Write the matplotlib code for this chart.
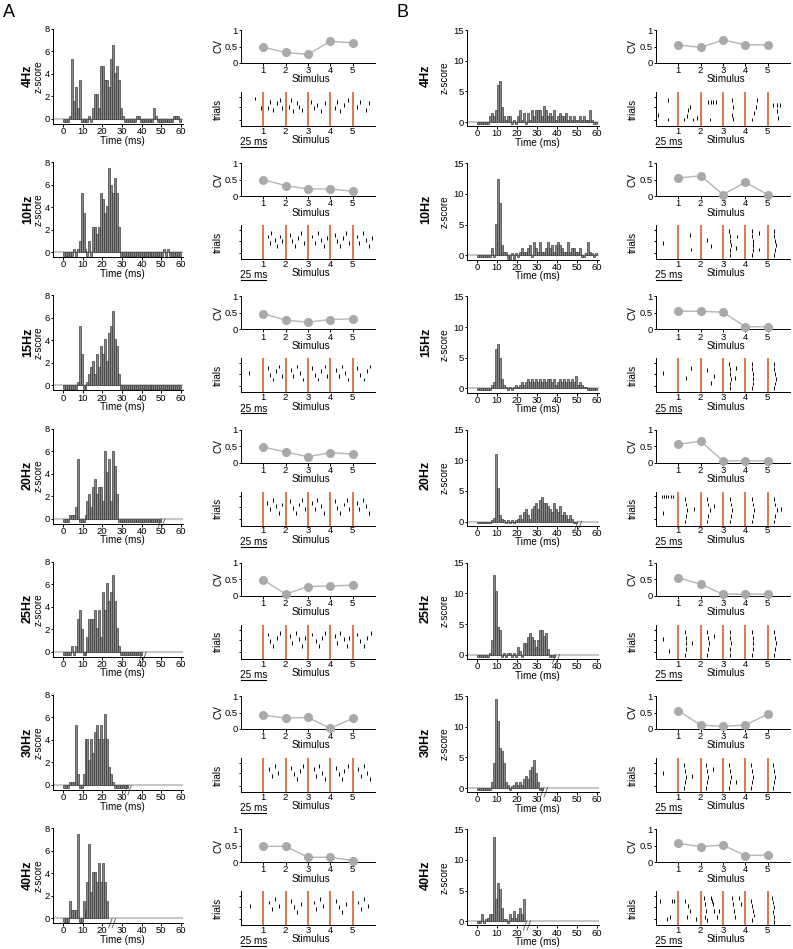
import numpy as np
import matplotlib.pyplot as plt
from matplotlib.transforms import blended_transform_factory

plt.rcParams['font.family'] = ['Liberation Sans', 'DejaVu Sans']
plt.rcParams['font.size'] = 7.2
plt.rcParams['axes.linewidth'] = 0.7

W, H = 793, 949
ROW = 133.2  # px between rows

freqs = ['4Hz', '10Hz', '15Hz', '20Hz', '25Hz', '30Hz', '40Hz']
stims = [1, 2, 3, 4, 5]

# ms where the next stimulus cuts the PSTH
cut_a = [None, None, None, 50, 40.5, 33, 25]
cut_b = [None, None, None, 50.5, 39.5, 33.5, 25]

# PSTH z-scores, 1 ms bins starting at 0 ms
a4 = [-0.3, -0.3, -0.3, 0.3, 5.3, 1.6, 2.8, 1.0, 3.5, -0.3,
      -0.3, -0.3, -0.3, 0.3, -0.3, 1.0, 2.2, 2.2, 1.0, 4.7,
      4.7, 3.5, 3.5, 2.8, 5.3, 6.6, 4.1, 4.7, 3.5, 1.0,
      0.3, -0.3, -0.3, -0.3, -0.3, -0.3, -0.3, 0.3, 0.3, -0.3,
      -0.3, -0.3, -0.3, -0.3, -0.3, -0.3, 1.0, 0.3, -0.3, -0.3,
      -0.3, -0.3, -0.3, -0.3, -0.3, -0.3, 0.3, 0.3, 0.3, -0.3]
a10 = [-0.3, -0.3, -0.3, -0.3, -0.3, 0.3, -0.3, 0.3, 1.0, 5.3,
       3.5, 0.3, -0.3, 1.0, -0.3, 2.2, 2.2, 1.6, 2.2, 5.3,
       4.7, 3.5, 4.1, 7.5, 6.0, 5.3, 6.6, 5.3, 2.2, -0.3,
       -0.3, -0.3, -0.3, -0.3, -0.3, -0.3, -0.3, -0.3, -0.3, -0.3,
       -0.3, -0.3, -0.3, -0.3, -0.3, -0.3, -0.3, -0.3, -0.3, -0.3,
       -0.3, 0.3, -0.3, 0.3, -0.3, -0.3, -0.3, -0.3, -0.3, -0.3]
a15 = [-0.3, -0.3, -0.3, -0.3, -0.3, -0.3, -0.3, 0.3, 5.3, 2.8,
       -0.3, -0.3, 0.3, 1.0, 1.6, 2.2, 1.0, 2.8, 1.6, 3.5,
       2.8, 4.1, 2.2, 4.7, 5.3, 6.6, 4.1, 3.5, 1.0, -0.3,
       -0.3, -0.3, -0.3, -0.3, -0.3, -0.3, -0.3, -0.3, -0.3, -0.3,
       -0.3, -0.3, -0.3, -0.3, -0.3, -0.3, -0.3, -0.3, -0.3, -0.3,
       -0.3, -0.3, -0.3, -0.3, -0.3, -0.3, -0.3, -0.3, -0.3, -0.3]
a20 = [-0.3, -0.3, -0.3, 0.3, 0.3, 0.3, 1.0, 5.3, -0.3, -0.3,
       -0.3, 0.3, 1.6, 2.2, 1.0, 2.8, 3.5, 2.2, 2.8, 2.8,
       1.6, 6.0, 4.1, 5.3, 1.6, 6.0, 4.7, 2.2, -0.3, -0.3,
       -0.3, -0.3, -0.3, -0.3, -0.3, -0.3, -0.3, -0.3, -0.3, -0.3,
       -0.3, -0.3, -0.3, -0.3, -0.3, -0.3, -0.3, -0.3, -0.3, -0.3]
a25 = [-0.3, -0.3, -0.3, -0.3, 0.5, -0.3, 0.5, 2.9, 3.7, 2.0,
       -0.3, -0.3, 1.3, 2.9, 2.9, 2.9, 3.7, 2.1, 3.7, 1.3,
       5.3, 3.7, 6.1, 4.5, 5.3, 6.8, 4.5, 2.1, 0.5, -0.3,
       -0.3, -0.3, -0.3, -0.3, -0.3, -0.3, -0.3, -0.3, -0.3, -0.3]
a30 = [-0.3, -0.3, -0.3, 0.3, 0.3, 0.3, 5.3, 1.0, -0.3, -0.3,
       1.0, 4.1, 4.1, 2.2, 4.1, 2.8, 4.7, 5.3, 4.1, 5.3,
       4.1, 6.3, 4.1, 1.6, 1.0, 0.3, -0.3, -0.3, -0.3, -0.3,
       -0.3, -0.3, -0.3]
a40 = [-0.3, -0.3, -0.3, 1.5, 0.7, 0.7, 0.7, 7.5, -0.3, -0.3,
       1.5, 0.7, 3.2, 6.6, 2.3, 4.1, 4.1, 3.2, 4.9, 3.2,
       4.9, 3.2, 1.5]

b4 = [-0.3, -0.3, -0.3, -0.3, -0.3, -0.3, 0.9, 1.5, 0.9, 2.0,
      6.1, 6.7, 2.5, 0.9, 0.4, 0.9, 0.9, -0.3, 0.4, -0.3,
      0.9, 2.0, 0.4, 1.5, -0.3, 1.5, 0.4, 2.0, 0.9, 2.0,
      2.0, 2.0, 0.9, 2.6, 2.0, 0.9, 1.5, 0.9, 2.0, 0.4,
      0.9, 1.5, 0.9, 0.9, 1.5, 0.4, 0.9, 0.4, 0.9, 0.4,
      0.4, 0.9, 0.4, 0.9, 0.4, 0.4, 2.0, 0.4, -0.3, -0.3]
b10 = [-0.3, -0.3, -0.3, -0.3, -0.3, -0.3, -0.3, 1.1, -0.3, 5.1,
       12.4, 8.5, 1.7, 0.6, 0.6, -0.6, -0.6, 0.3, -0.6, 0.3,
       -0.3, 0.6, 1.1, 0.6, 0.6, 1.1, 1.6, -0.3, 2.2, 1.1,
       0.6, 2.2, 0.6, 0.6, 1.1, 2.2, 1.1, 1.7, 0.6, 1.7,
       2.2, 1.7, 1.1, 0.6, 0.6, 2.2, 0.6, 1.1, 1.1, 0.6,
       0.6, 1.1, -0.3, -0.3, 0.3, 2.2, 0.6, 0.3, -0.3, 0.3]
b15 = [-0.3, -0.3, -0.3, -0.3, -0.3, -0.3, -0.3, 0.5, 1.0, 6.5,
       7.2, 5.0, 1.5, 0.5, 0.3, -0.3, 0.3, -0.3, 0.3, 0.5,
       0.3, 0.5, 1.0, 0.5, 1.0, 1.5, 1.0, 1.5, 1.0, 1.5,
       1.0, 1.5, 1.0, 1.5, 1.0, 1.5, 1.5, 1.0, 1.5, 0.5,
       1.0, 1.5, 1.0, 1.5, 1.0, 1.5, 1.0, 1.5, 1.0, 2.0,
       0.5, 1.0, 0.5, 0.3, 0.3, -0.3, -0.3, -0.3, -0.3, -0.3]
b20 = [-0.3, -0.3, -0.3, -0.3, -0.3, -0.3, -0.3, 0.3, 0.6, 11.0,
       5.5, 1.0, 0.5, 0.3, -0.3, 0.3, -0.3, 0.3, -0.3, 0.3,
       0.5, 1.0, 0.5, 1.5, 2.0, 1.0, 0.5, 2.0, 2.5, 3.0,
       2.0, 3.5, 4.0, 3.0, 3.0, 2.5, 2.0, 1.5, 3.0, 2.0,
       1.5, 2.5, 1.0, 1.5, 1.0, 0.5, 1.0, 0.5, -0.3, -0.3]
b25 = [-0.3, -0.3, -0.3, -0.3, -0.3, -0.3, 0.3, 2.4, 13.0, 10.4,
       4.6, 4.0, -0.3, 0.3, -0.3, 0.3, 0.3, -0.3, 0.3, -0.3,
       1.3, 0.6, -0.3, 1.9, 1.9, 2.9, 3.6, 2.9, 2.4, 1.3,
       2.4, 4.0, 4.0, 3.0, 3.6, 1.0, -0.3, -0.3, -0.3]
b30 = [-0.3, -0.3, -0.3, -0.3, -0.3, -0.3, -0.3, 1.0, 4.0, 14.5,
       11.0, 6.5, 6.0, 4.0, 1.0, 0.5, -0.3, 0.3, 0.5, 1.0,
       0.5, 1.0, 0.5, 1.5, 2.0, 1.5, 3.0, 3.5, 4.5, 2.5,
       1.0, -0.3, -0.3]
b40 = [-0.3, -0.3, 1.1, -0.3, 0.3, 0.6, 1.1, 1.1, 13.8, 3.6,
       6.2, 5.2, 2.1, 0.3, 0.3, -0.3, 1.1, 0.6, 1.6, 0.6,
       1.1, 2.1, 1.1, 3.6]

hist_a = [a4, a10, a15, a20, a25, a30, a40]
hist_b = [b4, b10, b15, b20, b25, b30, b40]

# coefficient of variation per stimulus
cv_a = [[0.48, 0.32, 0.26, 0.66, 0.61],
        [0.50, 0.32, 0.22, 0.22, 0.15],
        [0.48, 0.28, 0.22, 0.30, 0.32],
        [0.47, 0.32, 0.18, 0.30, 0.26],
        [0.48, 0.05, 0.28, 0.30, 0.32],
        [0.42, 0.33, 0.35, 0.02, 0.32],
        [0.48, 0.48, 0.15, 0.15, 0.05]]
cv_b = [[0.55, 0.47, 0.70, 0.55, 0.55],
        [0.55, 0.62, 0.05, 0.42, 0.05],
        [0.55, 0.55, 0.52, 0.08, 0.08],
        [0.55, 0.65, 0.05, 0.05, 0.05],
        [0.55, 0.35, 0.05, 0.05, 0.05],
        [0.55, 0.12, 0.08, 0.12, 0.45],
        [0.57, 0.47, 0.52, 0.20, 0.22]]

# raster spikes: position in stimulus units, trial number
ras_a_x = [
    [0.63, 0.9, 1.2, 1.3, 1.45, 1.6, 1.75, 1.85, 2.15, 2.25, 2.35, 2.5, 2.6, 2.75,
     3.15, 3.25, 3.4, 3.6, 3.75, 4.2, 4.3, 4.45, 4.6, 4.8, 5.2, 5.35, 5.6, 5.75],
    [1.2, 1.28, 1.35, 1.5, 1.62, 1.75, 1.85, 2.2, 2.3, 2.4, 2.55, 2.7, 2.8,
     3.2, 3.3, 3.45, 3.6, 3.7, 3.85, 4.2, 4.3, 4.45, 4.55, 4.7, 4.85,
     5.2, 5.3, 5.45, 5.6, 5.75, 5.85],
    [0.35, 1.2, 1.3, 1.42, 1.55, 1.7, 1.82, 2.22, 2.35, 2.5, 2.62, 2.78,
     3.2, 3.32, 3.45, 3.6, 3.75, 3.85, 4.25, 4.38, 4.5, 4.65, 4.8,
     5.2, 5.35, 5.5, 5.62, 5.78],
    [1.18, 1.3, 1.45, 1.58, 1.72, 1.85, 2.2, 2.32, 2.45, 2.6, 2.75, 2.85,
     3.18, 3.3, 3.42, 3.58, 3.72, 4.2, 4.32, 4.45, 4.6, 4.75, 4.85,
     5.18, 5.3, 5.45, 5.6, 5.75],
    [1.2, 1.32, 1.45, 1.6, 1.75, 2.2, 2.3, 2.45, 2.6, 2.72, 2.85,
     3.2, 3.35, 3.5, 3.62, 3.78, 4.2, 4.3, 4.45, 4.6, 4.75, 4.85,
     5.2, 5.35, 5.5, 5.65, 5.8],
    [1.25, 1.38, 1.5, 1.65, 2.25, 2.38, 2.5, 2.65, 2.78, 3.25, 3.38, 3.5,
     3.62, 3.75, 4.25, 4.38, 4.5, 4.62, 4.78, 5.25, 5.38, 5.5, 5.62, 5.78],
    [0.4, 1.25, 1.38, 1.52, 1.68, 2.25, 2.38, 2.52, 2.68, 3.25, 3.38, 3.52,
     3.68, 4.25, 4.38, 4.52, 4.68, 5.25, 5.38, 5.52, 5.68]]
ras_a_y = [
    [17, 11, 11, 15, 10, 14, 16, 11, 12, 16, 9, 14, 12, 10,
     15, 11, 13, 9, 14, 11, 15, 9, 13, 16, 12, 15, 10, 14],
    [14, 10, 16, 12, 8, 14, 11, 15, 11, 8, 13, 16, 10,
     14, 10, 16, 12, 8, 13, 15, 11, 8, 13, 16, 10,
     14, 10, 16, 12, 8, 13],
    [12, 15, 11, 8, 13, 16, 10, 14, 10, 16, 12, 8,
     15, 11, 8, 13, 16, 10, 14, 10, 16, 12, 8,
     15, 11, 8, 13, 16],
    [14, 10, 16, 12, 8, 13, 15, 11, 8, 13, 16, 10,
     14, 10, 16, 12, 8, 15, 11, 8, 13, 16, 10,
     14, 10, 16, 12, 8],
    [15, 11, 8, 13, 16, 14, 10, 16, 12, 8, 13,
     15, 11, 8, 13, 16, 14, 10, 16, 12, 8, 13,
     15, 11, 8, 13, 16],
    [14, 10, 16, 12, 15, 11, 8, 13, 16, 14, 10, 16,
     12, 8, 15, 11, 8, 13, 16, 14, 10, 16, 12, 8],
    [12, 14, 10, 16, 12, 15, 11, 8, 13, 14, 10, 16,
     12, 15, 11, 8, 13, 14, 10, 16, 12]]
ras_b_x = [
    [0.1, 0.55, 0.55, 1.27, 1.37, 1.45, 1.52, 1.67, 1.82,
     2.34, 2.45, 2.57, 2.7, 2.42, 3.39, 3.46, 3.39, 3.43,
     4.31, 4.39, 4.46, 4.5, 5.25, 5.4, 5.55, 5.4, 5.48],
    [0.3, 1.5, 1.55, 2.3, 2.45,
     3.3, 3.32, 3.35, 3.33, 3.3, 3.28, 3.6, 3.62,
     4.3, 4.33, 4.36, 4.33, 4.3, 4.28, 4.6, 4.62,
     5.3, 5.33, 5.36, 5.33, 5.3, 5.28],
    [0.3, 1.35, 1.55, 2.3, 2.45, 2.6,
     3.3, 3.33, 3.36, 3.33, 3.3, 3.28, 3.55, 3.58,
     4.3, 4.33, 4.36, 4.33, 4.3, 4.28,
     5.3, 5.33, 5.36, 5.33, 5.3, 5.28],
    [0.25, 0.35, 0.45, 0.55, 0.65, 0.75, 0.3,
     1.3, 1.35, 1.4, 1.35, 1.3, 1.7,
     2.3, 2.35, 2.4, 2.35, 2.3, 2.6,
     3.3, 3.35, 3.4, 3.35, 3.3,
     4.3, 4.35, 4.4, 4.35, 4.3,
     5.3, 5.35, 5.4, 5.35, 5.3, 5.6],
    [0.3, 0.6,
     1.3, 1.33, 1.36, 1.33, 1.3, 1.6,
     2.3, 2.33, 2.36, 2.33, 2.3, 2.6,
     3.3, 3.33, 3.36, 3.33, 3.3,
     4.3, 4.33, 4.36, 4.33, 4.3,
     5.3, 5.33, 5.36, 5.33, 5.3],
    [0.3,
     1.25, 1.3, 1.35, 1.3, 1.25, 1.6,
     2.25, 2.3, 2.35, 2.3, 2.25, 2.55,
     3.25, 3.3, 3.35, 3.3, 3.25, 3.6,
     4.25, 4.3, 4.35, 4.3, 4.25,
     5.25, 5.3, 5.35, 5.3, 5.25],
    [0.18, 0.7, 0.82, 0.48, 0.63,
     1.3, 1.42, 1.5, 1.37, 1.8,
     2.15, 2.2, 2.25, 2.18, 2.3,
     2.45, 2.55, 2.6, 2.5, 2.75, 2.8,
     3.4, 3.45, 3.5, 3.55, 3.7, 3.8,
     4.25, 4.3, 4.35, 4.4, 4.3,
     5.2, 5.25, 5.3, 5.25, 5.3, 5.3]]
ras_b_y = [
    [7, 16, 4, 4, 6, 10, 11.5, 4, 5,
     15, 15, 15, 15, 4, 16, 11.5, 7, 4.5,
     4, 8, 11.5, 16, 13, 13, 13, 9, 5],
    [10, 15, 6, 12, 8,
     2.5, 5.5, 8.5, 11.5, 14.5, 17.5, 7, 14,
     2.5, 5.5, 8.5, 11.5, 14.5, 17.5, 6, 16,
     2.5, 5.5, 8.5, 11.5, 14.5, 17.5],
    [12, 9, 15, 14, 6, 10,
     2.5, 5.5, 8.5, 11.5, 14.5, 17.5, 9, 15,
     2.5, 5.5, 8.5, 11.5, 14.5, 17.5,
     2.5, 5.5, 8.5, 11.5, 14.5, 17.5],
    [18, 18, 18, 18, 18, 18, 8,
     2.5, 6, 9.5, 13, 16.5, 10,
     2.5, 6, 9.5, 13, 16.5, 12,
     2.5, 6, 9.5, 13, 16.5,
     2.5, 6, 9.5, 13, 16.5,
     2.5, 6, 9.5, 13, 16.5, 10],
    [12, 5,
     2.5, 6, 9.5, 13, 16.5, 10,
     2.5, 6, 9.5, 13, 16.5, 14,
     2.5, 6, 9.5, 13, 16.5,
     2.5, 6, 9.5, 13, 16.5,
     2.5, 6, 9.5, 13, 16.5],
    [12,
     2.5, 6, 9.5, 13, 16.5, 10,
     2.5, 6, 9.5, 13, 16.5, 14,
     2.5, 6, 9.5, 13, 16.5, 6,
     2.5, 6, 9.5, 13, 16.5,
     2.5, 6, 9.5, 13, 16.5],
    [15, 15, 15, 4, 5,
     15, 12, 9, 5, 4,
     17, 13, 9, 5, 3,
     17, 13, 9, 15, 5, 9,
     17, 13, 9, 5, 17, 13,
     15, 12, 9, 6, 3,
     17, 14, 11, 8, 5, 2]]


def px_axes(fig, x0, y0, x1, y1):
    return fig.add_axes([x0 / W, 1 - y1 / H, (x1 - x0) / W, (y1 - y0) / H])


def style(ax):
    ax.spines['top'].set_visible(False)
    ax.spines['right'].set_visible(False)
    ax.tick_params(length=1.8, width=0.7, pad=0.5, labelsize=6.8)


def draw_hist(ax, vals, cut, ylim, yticks, ylab_x):
    t = np.arange(len(vals)) + 0.5
    ax.axhline(0, color='#c8c8c8', lw=1.5, zorder=0)
    ax.bar(t, vals, width=1.0, color='#878787', edgecolor='#333333',
           linewidth=0.45, zorder=2)
    ax.set_xlim(-5, 61)
    ax.set_ylim(*ylim)
    ax.set_yticks(yticks)
    ax.set_xticks(range(0, 61, 10))
    ax.set_xlabel('Time (ms)', labelpad=-0.5)
    ax.xaxis.label.set_x(0.53)
    ax.set_ylabel('z-score')
    ax.yaxis.set_label_coords(ylab_x, 0.5)
    if cut is not None:
        tr = blended_transform_factory(ax.transData, ax.transAxes)
        for dx in (-0.9, 0.9):
            ax.plot([cut + dx - 0.9, cut + dx + 0.9], [-0.05, 0.05],
                    transform=tr, color='#555555', lw=0.6, clip_on=False)


def draw_cv(ax, vals, ylab_x):
    ax.plot(stims, vals, '-o', color='#b5b5b5', mfc='#a9a9a9', mec='#a9a9a9',
            ms=5.5, lw=1.0, clip_on=False, zorder=3)
    ax.set_xlim(0, 6)
    ax.set_ylim(0, 1)
    ax.set_yticks([0, 0.5, 1])
    ax.set_yticklabels(['0', '0.5', '1'])
    ax.set_xticks(stims)
    ax.set_xlabel('Stimulus', labelpad=-0.5)
    ax.xaxis.label.set_x(0.52)
    ax.set_ylabel('CV')
    ax.yaxis.set_label_coords(ylab_x, 0.5)


def draw_raster(ax, xs, ys, ylab_x):
    for k in stims:
        ax.axvline(k, color='#e0693f', lw=1.3, zorder=1)
    ys = np.array(ys, dtype=float)
    ax.vlines(xs, ys - 1.2, ys + 1.2, color='black', lw=0.7, zorder=2)
    ax.set_xlim(0, 6)
    ax.set_ylim(0, 21)
    ax.set_xticks(stims)
    ax.tick_params(axis='x', length=0, pad=0.6)
    ax.set_yticks([4, 11.5, 18])
    ax.set_yticklabels([])
    ax.set_xlabel('Stimulus', labelpad=-0.5)
    ax.xaxis.label.set_x(0.52)
    ax.set_ylabel('trials')
    ax.yaxis.set_label_coords(ylab_x, 0.5)
    tr = blended_transform_factory(ax.transData, ax.transAxes)
    ax.plot([0, 1.1], [-0.62, -0.62], transform=tr, color='black', lw=0.8,
            clip_on=False)
    ax.text(0.55, -0.33, '25 ms', transform=tr, ha='center', va='top',
            fontsize=7.2)


fig = plt.figure(figsize=(W / 100, H / 100), dpi=100)

fig.text(3 / W, 1 - 4 / H, 'A', fontsize=13, va='top', ha='left')
fig.text(397 / W, 1 - 4 / H, 'B', fontsize=13, va='top', ha='left')

for i, f in enumerate(freqs):
    dy = i * ROW
    # panel A
    fig.text(28 / W, 1 - (76 + dy) / H, f, rotation=90, fontsize=9,
             fontweight='bold', ha='center', va='center')
    ax = px_axes(fig, 53, 29 + dy, 183, 124 + dy)
    style(ax)
    draw_hist(ax, hist_a[i], cut_a[i], (-0.45, 8), [0, 2, 4, 6, 8], -0.07)
    ax = px_axes(fig, 241, 30 + dy, 375, 63 + dy)
    style(ax)
    draw_cv(ax, cv_a[i], -0.134)
    ax = px_axes(fig, 241, 92 + dy, 375, 126 + dy)
    style(ax)
    draw_raster(ax, ras_a_x[i], ras_a_y[i], -0.134)

    # panel B
    fig.text(426 / W, 1 - (76 + dy) / H, f, rotation=90, fontsize=9,
             fontweight='bold', ha='center', va='center')
    ax = px_axes(fig, 467, 30 + dy, 599, 126.3 + dy)
    style(ax)
    draw_hist(ax, hist_b[i], cut_b[i], (-0.7, 15), [0, 5, 10, 15], -0.133)
    ax = px_axes(fig, 656, 30 + dy, 790, 63 + dy)
    style(ax)
    draw_cv(ax, cv_b[i], -0.136)
    ax = px_axes(fig, 656, 92 + dy, 790, 126 + dy)
    style(ax)
    draw_raster(ax, ras_b_x[i], ras_b_y[i], -0.136)

fig.savefig('out.png', dpi=100)
